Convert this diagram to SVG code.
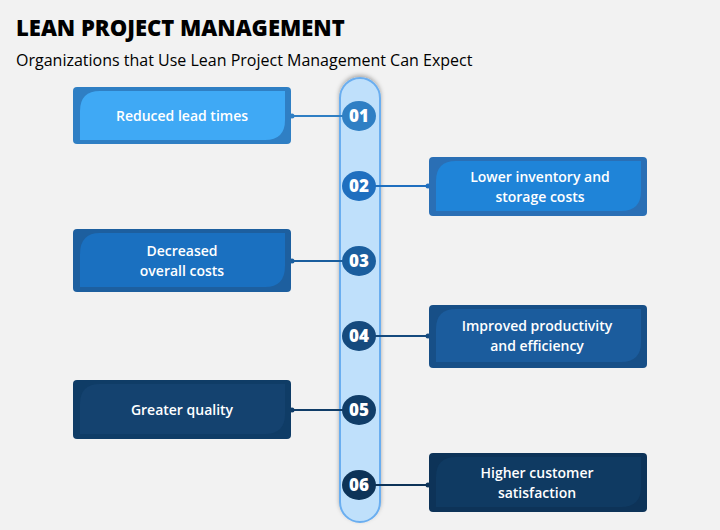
<svg xmlns="http://www.w3.org/2000/svg" width="720" height="530" viewBox="0 0 720 530">
<defs>
<style>
.t{font-family:"Open Sans","Liberation Sans",sans-serif;font-size:14px;fill:#fff;text-anchor:middle;font-weight:600}
.n{font-family:"Open Sans","Liberation Sans",sans-serif;font-size:17px;fill:#fff;text-anchor:middle;font-weight:800}
.c{stroke-width:2;fill:none}
</style>
<filter id="sh" x="-20%" y="-20%" width="140%" height="140%"><feDropShadow dx="0" dy="-2" stdDeviation="2" flood-color="#000" flood-opacity="0.3"/></filter>
</defs>
<rect width="720" height="530" fill="#f2f2f2"/>
<text x="16" y="36" font-family="'Open Sans','Liberation Sans',sans-serif" font-size="22" font-weight="800" fill="#000">LEAN PROJECT MANAGEMENT</text>
<text x="16" y="66" font-family="'Open Sans','Liberation Sans',sans-serif" font-size="16" fill="#000">Organizations that Use Lean Project Management Can Expect</text>
<g id="pill"><rect x="340" y="78" width="40" height="444" rx="20" fill="#bfe0fb" stroke="#6aaef0" stroke-width="2" filter="url(#sh)"/></g>
<g id="connectors">
<line class="c" x1="291" y1="116" x2="345" y2="116" stroke="#2f7fc4"/><circle cx="292" cy="116" r="2.5" fill="#2f7fc4"/>
<line class="c" x1="374" y1="186" x2="429" y2="186" stroke="#1f6fbf"/><circle cx="428" cy="186" r="2.5" fill="#1f6fbf"/>
<line class="c" x1="291" y1="261" x2="345" y2="261" stroke="#1a5e9e"/><circle cx="292" cy="261" r="2.5" fill="#1a5e9e"/>
<line class="c" x1="374" y1="336" x2="429" y2="336" stroke="#154a7e"/><circle cx="428" cy="336" r="2.5" fill="#154a7e"/>
<line class="c" x1="291" y1="410" x2="345" y2="410" stroke="#103d68"/><circle cx="292" cy="410" r="2.5" fill="#103d68"/>
<line class="c" x1="374" y1="485" x2="429" y2="485" stroke="#0d3358"/><circle cx="428" cy="485" r="2.5" fill="#0d3358"/>
</g>
<g id="n1"><rect x="73" y="87" width="218" height="57" rx="4" fill="#2f7fc4"/><path d="M100 91H285V120Q285 140 265 140H80V111Q80 91 100 91Z" fill="#3fa9f5"/><text class="t" x="182" y="121">Reduced lead times</text>
<ellipse cx="359" cy="116" rx="17" ry="15" fill="#2f7fc4"/><text class="n" x="359" y="122">01</text></g>
<g id="n2"><rect x="429" y="157" width="218" height="59" rx="4" fill="#2a6fb5"/><path d="M456 161H641V191Q641 211 621 211H436V181Q436 161 456 161Z" fill="#1f84d8"/><text class="t" x="540" y="182">Lower inventory and</text><text class="t" x="540" y="202">storage costs</text>
<ellipse cx="359" cy="186" rx="17" ry="15" fill="#1f6fbf"/><text class="n" x="359" y="192">02</text></g>
<g id="n3"><rect x="73" y="229" width="218" height="63" rx="4" fill="#1d5f9f"/><path d="M100 233H285V266Q285 287 265 287H80V254Q80 233 100 233Z" fill="#1a70c0"/><text class="t" x="182" y="256">Decreased</text><text class="t" x="182" y="276">overall costs</text>
<ellipse cx="359" cy="261" rx="17" ry="15" fill="#1a5e9e"/><text class="n" x="359" y="267">03</text></g>
<g id="n4"><rect x="429" y="305" width="218" height="63" rx="4" fill="#174f87"/><path d="M456 309H641V342Q641 362 621 362H436V329Q436 309 456 309Z" fill="#1b5c9d"/><text class="t" x="537" y="331">Improved productivity</text><text class="t" x="537" y="351">and efficiency</text>
<ellipse cx="359" cy="336" rx="17" ry="15" fill="#154a7e"/><text class="n" x="359" y="342">04</text></g>
<g id="n5"><rect x="73" y="380" width="218" height="59" rx="4" fill="#0f3c66"/><path d="M100 384H285V414Q285 434 265 434H80V404Q80 384 100 384Z" fill="#14426f"/><text class="t" x="182" y="415">Greater quality</text>
<ellipse cx="359" cy="410" rx="17" ry="15" fill="#103d68"/><text class="n" x="359" y="416">05</text></g>
<g id="n6"><rect x="429" y="453" width="218" height="59" rx="4" fill="#0d3358"/><path d="M456 457H641V487Q641 507 621 507H436V477Q436 457 456 457Z" fill="#0f3a62"/><text class="t" x="537" y="478">Higher customer</text><text class="t" x="537" y="498">satisfaction</text>
<ellipse cx="359" cy="485" rx="17" ry="15" fill="#0d3358"/><text class="n" x="359" y="491">06</text></g>
</svg>
